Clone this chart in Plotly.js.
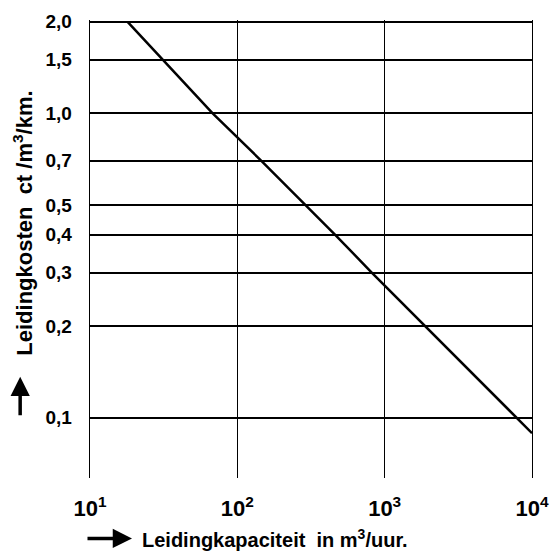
<!DOCTYPE html>
<html>
<head>
<meta charset="utf-8">
<script src="https://cdn.plot.ly/plotly-3.0.1.min.js"></script>
<style>html,body{margin:0;padding:0;background:#fff;}</style>
</head>
<body>
<div id="chart" style="width:554px;height:555px;"></div>
<script>
// Data (log-log straight line)
const capacity = [18, 68, 145, 293, 460, 817, 7800, 10000];   // m3/uur
const cost     = [2.0, 1.0, 0.7, 0.5, 0.4, 0.3, 0.1, 0.089];   // ct/m3/km

const xTickVals = [10, 100, 1000, 10000];
const xTickText = ['10<sup>1</sup>', '10<sup>2</sup>', '10<sup>3</sup>', '10<sup>4</sup>'];
const yTickVals = [2.0, 1.5, 1.0, 0.7, 0.5, 0.4, 0.3, 0.2, 0.1];
const yTickText = ['2,0', '1,5', '1,0', '0,7', '0,5', '0,4', '0,3', '0,2', '0,1'];

const FONT = 'Liberation Sans, Arial, Helvetica, sans-serif';

const trace = {
  x: capacity, y: cost, type: 'scatter', mode: 'lines',
  line: {color: '#000', width: 2.5}, hoverinfo: 'skip'
};

const layout = {
  width: 554, height: 555,
  margin: {l: 90, r: 22, t: 20, b: 77},
  paper_bgcolor: '#fff', plot_bgcolor: '#fff',
  showlegend: false,
  xaxis: {
    type: 'log', range: [1, 4],
    tickvals: xTickVals, ticktext: xTickText,
    showgrid: true, gridcolor: '#000', gridwidth: 1.3,
    zeroline: false, showline: false, ticks: '',
    ticklabelstandoff: 15,
    tickfont: {family: FONT, size: 22, color: '#000', weight: 'bold'}
  },
  yaxis: {
    type: 'log', range: [Math.log10(0.0634), 0.307],
    tickvals: yTickVals, ticktext: yTickText,
    showgrid: true, gridcolor: '#000', gridwidth: 2,
    zeroline: false, ticks: '',
    showline: true, mirror: true, linecolor: '#000', linewidth: 1.3,
    ticklabelstandoff: 13,
    tickfont: {family: FONT, size: 19, color: '#000', weight: 'bold'}
  },
  annotations: [
    {
      xref: 'paper', yref: 'paper', x: -0.152, y: 0.557,
      text: 'Leidingkosten  ct /m<sup>3</sup>/km.', textangle: -90,
      showarrow: false, xanchor: 'center', yanchor: 'middle',
      font: {family: FONT, size: 22, color: '#000', weight: 'bold'}
    },
    {
      xref: 'paper', yref: 'paper', x: -0.158, y: 0.221,
      text: '', showarrow: true, ax: 0, ay: 40,
      arrowhead: 2, arrowsize: 1.1, arrowwidth: 3.5, arrowcolor: '#000'
    },
    {
      xref: 'paper', yref: 'paper', x: 0.113, y: -0.132,
      text: 'Leidingkapaciteit  in m<sup>3</sup>/uur.',
      showarrow: false, xanchor: 'left', yanchor: 'middle',
      font: {family: FONT, size: 20, color: '#000', weight: 'bold'}
    },
    {
      xref: 'paper', yref: 'paper', x: 0.0950, y: -0.132,
      text: '', showarrow: true, ax: -46, ay: 0,
      arrowhead: 2, arrowsize: 1.1, arrowwidth: 3.5, arrowcolor: '#000'
    }
  ]
};

Plotly.newPlot('chart', [trace], layout, {displayModeBar: false, staticPlot: true});
</script>
</body>
</html>
